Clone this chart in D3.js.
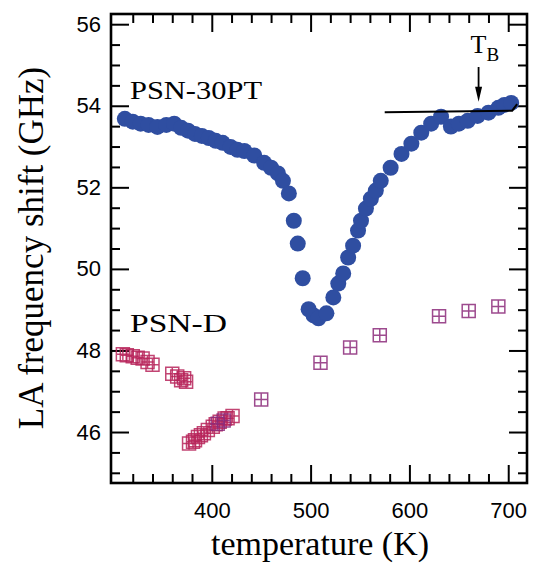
<!DOCTYPE html>
<html>
<head>
<meta charset="utf-8">
<script src="https://cdn.jsdelivr.net/npm/d3@7/dist/d3.min.js"></script>
<style>
  html, body { margin: 0; padding: 0; background: #fff; }
  svg { display: block; }
</style>
</head>
<body>
<svg id="chart" width="534" height="565"></svg>
<script>
// PSN-30PT: LA Brillouin frequency shift vs temperature (filled circles)
const psn30Temp = [312, 320, 328, 336, 345, 354, 362, 369, 376, 383, 390, 397, 404, 411, 419, 426,
  433, 443, 453, 460, 467, 472, 478, 483, 487, 492, 498, 503, 508, 516, 523, 528, 533, 538, 543,
  548, 551, 556, 561, 566, 571, 581, 592, 602, 612, 622, 632, 642, 650, 659, 669, 680, 690, 696, 703];
const psn30Shift = [53.68, 53.61, 53.56, 53.53, 53.48, 53.53, 53.56, 53.46, 53.39, 53.31, 53.26, 53.21,
  53.14, 53.09, 52.99, 52.92, 52.89, 52.78, 52.60, 52.48, 52.34, 52.16, 51.85, 51.18, 50.62, 49.77,
  49.01, 48.86, 48.79, 48.91, 49.30, 49.64, 49.89, 50.28, 50.57, 50.94, 51.18, 51.48, 51.72, 51.92,
  52.16, 52.48, 52.82, 53.07, 53.34, 53.56, 53.73, 53.49, 53.56, 53.63, 53.75, 53.83, 53.95, 54.02, 54.07];

// PSN-D: open crossed squares, first run
const psnDTempA = [310, 314, 320, 325, 330, 335, 340, 360, 365, 369, 372, 374,
  377, 381, 383, 386, 389, 392, 396, 401, 404, 408, 413, 416, 421];
const psnDShiftA = [47.91, 47.88, 47.86, 47.82, 47.80, 47.72, 47.65, 47.43, 47.36, 47.27, 47.32, 47.23,
  45.72, 45.76, 45.80, 45.88, 45.92, 45.97, 46.05, 46.13, 46.19, 46.25, 46.33, 46.34, 46.39];

// PSN-D: second run
const psnDTempB = [406, 412, 450, 510, 540, 570, 630, 660, 690];
const psnDShiftB = [46.20, 46.28, 46.80, 47.70, 48.07, 48.37, 48.84, 48.97, 49.08];

// Straight baseline above T_B
const baseTemp = [575, 704, 709];
const baseShift = [53.84, 53.88, 54.04];

// Burns temperature marker
const tB = 670;
const tBArrow = [54.95, 54.10];

// Axis ticks
const xMajorTicks = [400, 500, 600, 700];
const xMinorTicks = d3.range(320, 720, 20).filter(v => v % 100 !== 0);
const yMajorTicks = [46, 48, 50, 52, 54, 56];
const yMinorTicks = d3.range(45, 56.01, 0.5).filter(v => v % 2 !== 0);

const svg = d3.select("#chart");
const plotLeft = 111, plotRight = 527, plotTop = 14, plotBottom = 483;

const x = d3.scaleLinear().domain([298, 719]).range([plotLeft, plotRight]);
const y = d3.scaleLinear().domain([44.75, 56.25]).range([plotBottom, plotTop]);

const tickFont = "'Liberation Sans', Arial, sans-serif";
const serif = "'Liberation Serif', 'Times New Roman', serif";

function styleAxis(g) {
  g.select(".domain").remove();
  g.selectAll(".tick line").attr("stroke", "#000").attr("stroke-width", 2);
  g.selectAll(".tick text").attr("fill", "#000").attr("font-family", tickFont).attr("font-size", 22);
}
function tickMarksOnly(g) {
  styleAxis(g);
  g.selectAll(".tick text").remove();
}

// bottom
svg.append("g").attr("transform", `translate(0,${plotBottom})`)
  .call(d3.axisBottom(x).tickValues(xMinorTicks).tickSize(-9)).call(tickMarksOnly);
svg.append("g").attr("transform", `translate(0,${plotBottom})`)
  .call(d3.axisBottom(x).tickValues(xMajorTicks).tickSize(-18).tickPadding(19).tickFormat(d3.format("d"))).call(styleAxis);
// top
svg.append("g").attr("transform", `translate(0,${plotTop})`)
  .call(d3.axisTop(x).tickValues(xMinorTicks).tickSize(-9)).call(tickMarksOnly);
svg.append("g").attr("transform", `translate(0,${plotTop})`)
  .call(d3.axisTop(x).tickValues(xMajorTicks).tickSize(-18)).call(tickMarksOnly);
// left
svg.append("g").attr("transform", `translate(${plotLeft},0)`)
  .call(d3.axisLeft(y).tickValues(yMinorTicks).tickSize(-9)).call(tickMarksOnly);
svg.append("g").attr("transform", `translate(${plotLeft},0)`)
  .call(d3.axisLeft(y).tickValues(yMajorTicks).tickSize(-18).tickPadding(10).tickFormat(d3.format("d"))).call(styleAxis);
// right
svg.append("g").attr("transform", `translate(${plotRight},0)`)
  .call(d3.axisRight(y).tickValues(yMinorTicks).tickSize(-9)).call(tickMarksOnly);
svg.append("g").attr("transform", `translate(${plotRight},0)`)
  .call(d3.axisRight(y).tickValues(yMajorTicks).tickSize(-18)).call(tickMarksOnly);

// frame
svg.append("rect")
  .attr("x", plotLeft).attr("y", plotTop)
  .attr("width", plotRight - plotLeft).attr("height", plotBottom - plotTop)
  .attr("fill", "none").attr("stroke", "#000").attr("stroke-width", 2.6);

// PSN-D squares with a cross inside
const half = 6.5;
function crossedSquare(cx, cy) {
  return `M${cx - half},${cy - half}h${2 * half}v${2 * half}h${-2 * half}Z` +
         `M${cx},${cy - half}v${2 * half}M${cx - half},${cy}h${2 * half}`;
}
function drawSquares(temps, shifts, color) {
  svg.append("g")
    .selectAll("path")
    .data(temps.map((t, i) => [t, shifts[i]]))
    .join("path")
    .attr("d", d => crossedSquare(x(d[0]), y(d[1])))
    .attr("fill", "none")
    .attr("stroke", color)
    .attr("stroke-width", 1.5)
    .attr("stroke-opacity", 0.85);
}
drawSquares(psnDTempA, psnDShiftA, "#b7245a");
drawSquares(psnDTempB, psnDShiftB, "#8c2a7a");

// PSN-30PT circles
svg.append("g")
  .selectAll("circle")
  .data(psn30Temp.map((t, i) => [t, psn30Shift[i]]))
  .join("circle")
  .attr("cx", d => x(d[0]))
  .attr("cy", d => y(d[1]))
  .attr("r", 8)
  .attr("fill", "#2f4ea1");

// baseline
svg.append("path")
  .datum(baseTemp.map((t, i) => [t, baseShift[i]]))
  .attr("d", d3.line().x(d => x(d[0])).y(d => y(d[1])))
  .attr("fill", "none").attr("stroke", "#000").attr("stroke-width", 2);

// T_B arrow
svg.append("line")
  .attr("x1", x(tB)).attr("x2", x(tB))
  .attr("y1", y(tBArrow[0])).attr("y2", y(tBArrow[1]) - 10)
  .attr("stroke", "#000").attr("stroke-width", 1.8);
svg.append("path")
  .attr("d", `M${x(tB) - 3.5},${y(tBArrow[1]) - 15}L${x(tB) + 3.5},${y(tBArrow[1]) - 15}L${x(tB)},${y(tBArrow[1])}Z`)
  .attr("fill", "#000");

const tbText = svg.append("text")
  .attr("x", x(tB) - 8).attr("y", 53)
  .attr("font-family", serif).attr("font-size", 26).attr("fill", "#000");
tbText.append("tspan").text("T");
tbText.append("tspan").attr("dy", 8).attr("font-size", 19).text("B");

// series labels (set in a wide face)
svg.append("text").attr("x", 130).attr("y", 99)
  .attr("font-family", serif).attr("font-size", 26).attr("fill", "#000")
  .attr("textLength", 132).attr("lengthAdjust", "spacingAndGlyphs")
  .text("PSN-30PT");
svg.append("text").attr("x", 130).attr("y", 332)
  .attr("font-family", serif).attr("font-size", 26).attr("fill", "#000")
  .attr("textLength", 97).attr("lengthAdjust", "spacingAndGlyphs")
  .text("PSN-D");

// axis titles
svg.append("text")
  .attr("x", (plotLeft + plotRight) / 2 + 1).attr("y", 555)
  .attr("text-anchor", "middle")
  .attr("font-family", serif).attr("font-size", 34).attr("fill", "#000")
  .text("temperature (K)");
svg.append("text")
  .attr("transform", `translate(43,248) rotate(-90)`)
  .attr("text-anchor", "middle")
  .attr("font-family", serif).attr("font-size", 35).attr("fill", "#000")
  .text("LA frequency shift (GHz)");
</script>
</body>
</html>
